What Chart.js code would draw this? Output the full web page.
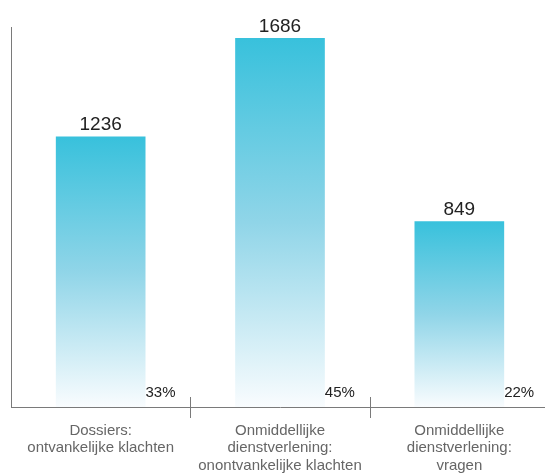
<!DOCTYPE html>
<html>
<head>
<meta charset="utf-8">
<script src="https://cdn.jsdelivr.net/npm/chart.js@4.4.1/dist/chart.umd.min.js"></script>
<style>
  html, body { margin: 0; padding: 0; background: #fff; overflow: hidden; }
  #wrap { position: relative; width: 549px; height: 473px; }
</style>
</head>
<body>
<div id="wrap"><canvas id="c"></canvas></div>
<script>
const categories = [
  ['Dossiers:', 'ontvankelijke klachten'],
  ['Onmiddellijke', 'dienstverlening:', 'onontvankelijke klachten'],
  ['Onmiddellijke', 'dienstverlening:', 'vragen']
];
const values = [1236, 1686, 849];
const shares = ['33%', '45%', '22%'];
const yMax = 1736;

const FONT = '"Liberation Sans", Arial, Helvetica, sans-serif';

function barGradient(ctx) {
  const chart = ctx.chart;
  const area = chart.chartArea;
  if (!area || ctx.type !== 'data') return '#38c1dc';
  const ys = chart.scales.y;
  const top = ys.getPixelForValue(ctx.parsed.y);
  const bottom = ys.getPixelForValue(0);
  const g = chart.ctx.createLinearGradient(0, top, 0, bottom);
  g.addColorStop(0, '#38c1dc');
  g.addColorStop(0.5, '#90d5e8');
  g.addColorStop(1, '#f9fcfe');
  return g;
}

const annotate = {
  id: 'annotate',
  afterDatasetsDraw(chart) {
    const c = chart.ctx;
    const meta = chart.getDatasetMeta(0);
    const area = chart.chartArea;
    c.save();
    meta.data.forEach((bar, i) => {
      c.fillStyle = '#222';
      c.font = '19px ' + FONT;
      c.textAlign = 'center';
      c.textBaseline = 'alphabetic';
      c.fillText(String(values[i]), bar.x, bar.y - 6);
      c.font = '15px ' + FONT;
      c.textAlign = 'left';
      c.fillText(shares[i], bar.x + bar.width / 2, area.bottom - 10);
    });
    const xs = chart.scales.x;
    c.strokeStyle = '#7a7a7a';
    c.lineWidth = 1;
    for (let i = 1; i < categories.length; i++) {
      const px = Math.round((xs.getPixelForValue(i - 1) + xs.getPixelForValue(i)) / 2) + 0.5;
      c.beginPath();
      c.moveTo(px, area.bottom - 10);
      c.lineTo(px, area.bottom + 11);
      c.stroke();
    }
    c.restore();
  }
};

new Chart(document.getElementById('c'), {
  type: 'bar',
  data: {
    labels: categories,
    datasets: [{
      data: values,
      backgroundColor: barGradient,
      borderWidth: 0,
      categoryPercentage: 0.5,
      barPercentage: 1.0
    }]
  },
  options: {
    responsive: true,
    maintainAspectRatio: false,
    animation: false,
    events: [],
    layout: { padding: { top: 27, left: 0, right: 0, bottom: 0 } },
    plugins: { legend: { display: false }, tooltip: { enabled: false } },
    scales: {
      x: {
        grid: { display: false, drawTicks: false },
        border: { display: true, color: '#7a7a7a', width: 1 },
        ticks: {
          color: '#666',
          padding: 15,
          maxRotation: 0,
          autoSkip: false,
          font: { family: FONT, size: 15, lineHeight: 1.17 }
        },
        afterFit(s) { s.height = 66; }
      },
      y: {
        min: 0,
        max: yMax,
        grid: { display: false, drawTicks: false },
        border: { display: true, color: '#7a7a7a', width: 1 },
        ticks: { display: false },
        afterFit(s) { s.width = 11; }
      }
    }
  },
  plugins: [annotate]
});
</script>
</body>
</html>
